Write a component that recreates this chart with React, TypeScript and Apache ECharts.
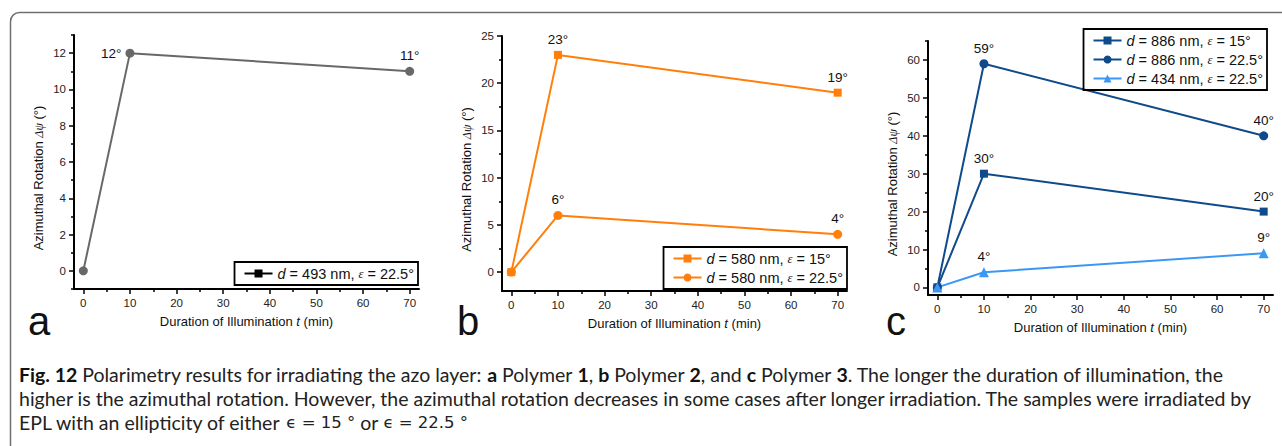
import React, { useEffect, useRef } from "react";
import * as echarts from "echarts";

// ---- data ----
const times = [0, 10, 70];
const polymer1_d493_e225 = [0, 12, 11];
const polymer2_d580_e15 = [0, 23, 19];
const polymer2_d580_e225 = [0, 6, 4];
const polymer3_d886_e15 = [0, 30, 20];
const polymer3_d886_e225 = [0, 59, 40];
const polymer3_d434_e225 = [0, 4, 9];

const xMajor = [0, 10, 20, 30, 40, 50, 60, 70];
const xMinor = [5, 15, 25, 35, 45, 55, 65];
const aYMajor = [0, 2, 4, 6, 8, 10, 12];
const aYMinor = [-1, 1, 3, 5, 7, 9, 11, 13];
const bYMajor = [0, 5, 10, 15, 20, 25];
const bYMinor = [2.5, 7.5, 12.5, 17.5, 22.5];
const cYMajor = [0, 10, 20, 30, 40, 50, 60];
const cYMinor = [5, 15, 25, 35, 45, 55, 65];

const legendNames: Record<string, string> = {
  a1: "{i|d} = 493 nm, {e|ε} = 22.5°",
  b1: "{i|d} = 580 nm, {e|ε} = 15°",
  b2: "{i|d} = 580 nm, {e|ε} = 22.5°",
  c1: "{i|d} = 886 nm, {e|ε} = 15°",
  c2: "{i|d} = 886 nm, {e|ε} = 22.5°",
  c3: "{i|d} = 434 nm, {e|ε} = 22.5°",
};

const captionLines = [
  "{b|Fig. 12} Polarimetry results for irradiating the azo layer: {b|a} Polymer {b|1}, {b|b} Polymer {b|2}, and {b|c} Polymer {b|3}. The longer the duration of illumination, the",
  "higher is the azimuthal rotation. However, the azimuthal rotation decreases in some cases after longer irradiation. The samples were irradiated by",
  "EPL with an ellipticity of either {m|ϵ = 15 °} or {m|ϵ = 22.5 °}",
];

const SANS = "'Liberation Sans', Arial, sans-serif";
const GRAY = "#686868";
const ORANGE = "#ff7f0a";
const NAVY = "#0f4a8a";
const LIGHT = "#3a97f5";

function points(values: number[], positions?: string[]) {
  return values.map((v, i) => {
    const item: any = { value: [times[i], v] };
    if (i === 0) item.label = { show: false };
    else if (positions) item.label = { position: positions[i] };
    return item;
  });
}

function xAxes(gridIndex: number) {
  const common = {
    type: "value",
    gridIndex,
    min: -2,
    max: 72,
    position: "bottom",
    splitLine: { show: false },
  };
  return [
    {
      ...common,
      axisLine: { show: true, onZero: false, lineStyle: { color: "#000", width: 2 } },
      axisTick: { show: true, inside: false, length: 5, customValues: xMajor, lineStyle: { color: "#000", width: 1.5 } },
      axisLabel: { show: true, customValues: xMajor, margin: 8, fontSize: 11.5, color: "#222", fontFamily: SANS },
      name: "Duration of Illumination {t|t} (min)",
      nameLocation: "middle",
      nameGap: 26,
      nameTextStyle: {
        fontSize: 13,
        color: "#111",
        fontFamily: SANS,
        rich: { t: { fontSize: 13, fontStyle: "italic", fontFamily: SANS, color: "#111" } },
      },
    },
    {
      ...common,
      axisLine: { show: false, onZero: false },
      axisTick: { show: true, inside: false, length: 3, customValues: xMinor, lineStyle: { color: "#000", width: 1.5 } },
      axisLabel: { show: false },
    },
  ];
}

function yAxes(gridIndex: number, min: number, max: number, major: number[], minor: number[]) {
  const common = {
    type: "value",
    gridIndex,
    min,
    max,
    position: "left",
    splitLine: { show: false },
  };
  return [
    {
      ...common,
      axisLine: { show: true, onZero: false, lineStyle: { color: "#000", width: 2 } },
      axisTick: { show: true, inside: false, length: 5, customValues: major, lineStyle: { color: "#000", width: 1.5 } },
      axisLabel: { show: true, customValues: major, margin: 8, fontSize: 11.5, color: "#222", fontFamily: SANS },
      name: "Azimuthal Rotation {g|Δψ} (°)",
      nameLocation: "middle",
      nameGap: 29,
      nameTextStyle: {
        fontSize: 13,
        color: "#111",
        fontFamily: SANS,
        padding: [0, 32, 0, 0],
        rich: { g: { fontSize: 12, fontStyle: "italic", fontFamily: "'Liberation Serif', serif", color: "#111" } },
      },
    },
    {
      ...common,
      axisLine: { show: false, onZero: false },
      axisTick: { show: true, inside: false, length: 3, customValues: minor, lineStyle: { color: "#000", width: 1.5 } },
      axisLabel: { show: false },
    },
  ];
}

function lineSeries(name: string, gi: number, values: number[], color: string, symbol: string, size: number, positions?: string[]) {
  return {
    type: "line",
    name,
    xAxisIndex: gi * 2,
    yAxisIndex: gi * 2,
    data: points(values, positions),
    symbol,
    symbolSize: size,
    lineStyle: { color, width: 2 },
    itemStyle: { color },
    label: {
      show: true,
      position: "top",
      distance: 4,
      formatter: (p: any) => p.value[1] + "°",
      fontSize: 13.5,
      color: "#111",
      fontFamily: SANS,
    },
    z: 3,
  };
}

function legend(names: string[], right: number, top: number) {
  return {
    data: names,
    orient: "vertical",
    right,
    top,
    itemWidth: 28,
    itemHeight: 10,
    itemGap: 4,
    padding: [4, 4, 4, 9],
    borderColor: "#000",
    borderWidth: 1.8,
    selectedMode: false,
    formatter: (n: string) => legendNames[n],
    textStyle: {
      fontSize: 14.5,
      color: "#111",
      fontFamily: SANS,
      rich: {
        i: { fontSize: 14.5, fontStyle: "italic", fontFamily: SANS, color: "#111" },
        e: { fontSize: 12.5, fontStyle: "italic", fontFamily: "'Liberation Serif', serif", color: "#111" },
      },
    },
  };
}

export default function App() {
  const ref = useRef<HTMLDivElement>(null);
  useEffect(() => {
    if (!ref.current) return;
    const chart = echarts.init(ref.current, null, { renderer: "svg" });
    const option: any = {
      animation: false,
      backgroundColor: "#fff",
      grid: [
        { left: 74, top: 35, width: 345, height: 254 },
        { left: 502, top: 36, width: 345, height: 255 },
        { left: 928, top: 41, width: 345, height: 254 },
      ],
      xAxis: [...xAxes(0), ...xAxes(1), ...xAxes(2)],
      yAxis: [
        ...yAxes(0, -1, 13, aYMajor, aYMinor),
        ...yAxes(1, -2, 25, bYMajor, bYMinor),
        ...yAxes(2, -2, 65, cYMajor, cYMinor),
      ],
      legend: [legend(["a1"], 864, 262), legend(["b1", "b2"], 435, 247), legend(["c1", "c2", "c3"], 15, 29)],
      series: [
        // legend stand-in for panel a (black square icon), no points
        { type: "line", name: "a1", xAxisIndex: 0, yAxisIndex: 0, data: [], symbol: "rect", lineStyle: { color: "#000", width: 2 }, itemStyle: { color: "#000" } },
        lineSeries("a1", 0, polymer1_d493_e225, GRAY, "circle", 9, ["top", "left", "top"]),
        lineSeries("b1", 1, polymer2_d580_e15, ORANGE, "rect", 8),
        lineSeries("b2", 1, polymer2_d580_e225, ORANGE, "circle", 9),
        lineSeries("c1", 2, polymer3_d886_e15, NAVY, "rect", 8),
        lineSeries("c2", 2, polymer3_d886_e225, NAVY, "circle", 9),
        lineSeries("c3", 2, polymer3_d434_e225, LIGHT, "triangle", 10),
      ],
      graphic: [
        {
          type: "rect",
          shape: { x: 10.5, y: 12.5, width: 1320, height: 500, r: 9 },
          style: { fill: "none", stroke: "#6f6f6f", lineWidth: 1.5 },
          silent: true,
        },
        { type: "text", x: 28, y: 321, style: { text: "a", font: `40px ${SANS}`, fill: "#111", verticalAlign: "middle" } },
        { type: "text", x: 457, y: 321, style: { text: "b", font: `40px ${SANS}`, fill: "#111", verticalAlign: "middle" } },
        { type: "text", x: 886, y: 321, style: { text: "c", font: `40px ${SANS}`, fill: "#111", verticalAlign: "middle" } },
        ...captionLines.map((t, i) => ({
          type: "text",
          x: 19,
          y: 374 + i * 24,
          style: {
            text: t,
            font: `19.5px Lato, sans-serif`,
            fill: "#222",
            verticalAlign: "middle",
            rich: {
              b: { fontFamily: "Lato, sans-serif", fontSize: 19.5, fontWeight: "bold", fill: "#111" },
              m: { fontFamily: "'DejaVu Sans', sans-serif", fontSize: 16.5, fill: "#222" },
            },
          },
        })),
      ],
    };
    chart.setOption(option);
    return () => chart.dispose();
  }, []);
  return (
    <div
      ref={ref}
      style={{ position: "fixed", left: 0, top: 0, width: 1282, height: 446 }}
    />
  );
}
